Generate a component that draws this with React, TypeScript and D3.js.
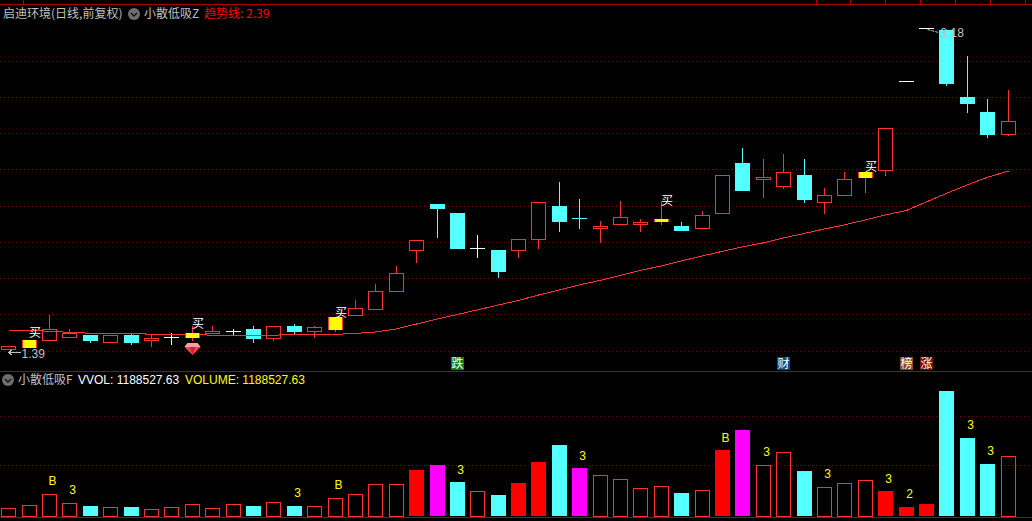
import * as d3 from "d3";

const opens = [1.41, 1.42, 1.46, 1.48, 1.49, 1.45, 1.49, 1.46, 1.48, 1.48, 1.5, 1.51, 1.52, 1.47, 1.54, 1.51, 1.52, 1.6, 1.63, 1.73, 1.96, 2.21, 2.16, 1.97, 1.96, 1.96, 2.02, 2.2, 2.135, 2.08, 2.1, 2.1, 2.12, 2.09, 2.08, 2.16, 2.44, 2.35, 2.31, 2.37, 2.22, 2.26, 2.36, 2.4, 2.89, 3.18, 3.17, 2.8, 2.72, 2.6];
const closes = [1.43, 1.46, 1.52, 1.5, 1.46, 1.49, 1.45, 1.47, 1.48, 1.5, 1.51, 1.51, 1.47, 1.54, 1.51, 1.53, 1.59, 1.64, 1.73, 1.83, 2.01, 2.19, 1.97, 1.97, 1.84, 2.02, 2.22, 2.12, 2.13, 2.09, 2.14, 2.11, 2.13, 2.07, 2.15, 2.37, 2.29, 2.36, 2.39, 2.24, 2.26, 2.35, 2.39, 2.63, 2.89, 3.18, 2.88, 2.77, 2.6, 2.67];
const highs = [1.43, 1.46, 1.6, 1.52, 1.49, 1.49, 1.5, 1.49, 1.5, 1.54, 1.54, 1.52, 1.54, 1.54, 1.55, 1.54, 1.59, 1.68, 1.77, 1.87, 2.01, 2.21, 2.16, 2.04, 1.96, 2.02, 2.22, 2.33, 2.24, 2.12, 2.23, 2.13, 2.22, 2.11, 2.17, 2.37, 2.52, 2.46, 2.49, 2.46, 2.3, 2.39, 2.39, 2.63, 2.89, 3.18, 3.17, 3.03, 2.79, 2.84];
const lows = [1.41, 1.42, 1.46, 1.48, 1.45, 1.45, 1.44, 1.43, 1.44, 1.46, 1.5, 1.49, 1.45, 1.46, 1.5, 1.48, 1.51, 1.6, 1.63, 1.73, 1.89, 2.03, 1.97, 1.92, 1.81, 1.92, 1.97, 2.06, 2.08, 2.0, 2.1, 2.06, 2.1, 2.07, 2.08, 2.16, 2.29, 2.25, 2.3, 2.22, 2.16, 2.26, 2.28, 2.37, 2.89, 3.18, 2.87, 2.72, 2.58, 2.59];
const trendLine = [1.514, 1.514, 1.509, 1.503, 1.498, 1.498, 1.498, 1.492, 1.492, 1.492, 1.487, 1.487, 1.487, 1.487, 1.492, 1.492, 1.492, 1.497, 1.505, 1.522, 1.549, 1.577, 1.602, 1.627, 1.654, 1.679, 1.709, 1.737, 1.765, 1.79, 1.817, 1.845, 1.87, 1.897, 1.925, 1.95, 1.975, 1.997, 2.024, 2.049, 2.074, 2.096, 2.124, 2.151, 2.176, 2.223, 2.27, 2.317, 2.359, 2.393];
// volume in units of 10k
const volumes = [14.5, 19.7, 42.7, 24.5, 19.1, 16.5, 15.1, 12.5, 16.5, 22.5, 14.5, 22.5, 19.1, 26.6, 19.1, 18.5, 34.6, 42.7, 62.8, 62.8, 91.5, 101.6, 65.4, 48.7, 41.2, 63.4, 107.6, 141.8, 93.6, 80.9, 72.8, 54.7, 58.8, 43.3, 50.7, 129.8, 172, 101, 127.2, 89.5, 56.7, 64.8, 70.8, 47.3, 17.1, 23.1, 250.5, 155.9, 103.6, 118.85];
// u = hollow up, d = down, r = filled red, m = magenta
const volumeKinds = "uuuududuuuuududuu" + "uuurmdudrrdmuuuud" + "urmuuduuurrrdddu";

const buyDays = [1, 9, 16, 32, 42];
const buyLabelPrices = [1.5, 1.55, 1.615, 2.23, 2.42];
const volumeLabelDays = [2, 3, 14, 16, 22, 28, 35, 37, 40, 43, 44, 47, 48];
const volumeLabels = ["B", "3", "3", "B", "3", "3", "B", "3", "3", "3", "2", "3", "3"];
const eventDays = [22, 38, 44, 45];
const eventLabels = ["跌", "财", "榜", "涨"];
const eventColors = ["#0a7d10", "#0f4a85", "#8a4a12", "#7d0a0a"];
const priceTicks = [1.4, 1.6, 1.8, 2.0, 2.2, 2.4, 2.6, 2.8, 3.0];
const volumeTicks = [1000000, 2000000];
const topTicks = [23, 816, 850, 885, 920, 955, 990, 1025];

const RED = "#ff3232";
const CYAN = "#54ffff";
const GRAY = "#c0c0c0";
const FONT = "'Liberation Sans', 'Noto Sans CJK SC', sans-serif";
const CJK = "'Noto Sans CJK SC', sans-serif";

// left edge of each 15px candle slot
const xScale = d3.scaleLinear().domain([0, 49]).range([1.805, 1001.01]);
const priceY = d3.scaleLinear().domain([1.4, 3.0]).range([351, 61.1]);
const volY = d3.scaleLinear().domain([0, 2000000]).range([515.5, 416.1]);

const leftOf = (i: number) => Math.floor(xScale(i));
const row = (v: number) => Math.floor(v) + 0.5;

function Chevron({ x, y }: { x: number; y: number }) {
  return (
    <g>
      <circle cx={x} cy={y} r={6} fill="#6e6e6e" />
      <path d={`M${x - 3},${y - 1}L${x},${y + 2}L${x + 3},${y - 1}`} fill="none" stroke="#111" strokeWidth={1.4} />
    </g>
  );
}

function Candle({ i }: { i: number }) {
  const left = leftOf(i);
  const mid = left + 7.5;
  const o = opens[i];
  const c = closes[i];
  const top = Math.round(priceY(Math.max(o, c)));
  const bottom = Math.round(priceY(Math.min(o, c)));
  const hi = Math.round(priceY(highs[i]));
  const lo = Math.round(priceY(lows[i]));
  const color = o === c ? "#ffffff" : c > o ? RED : CYAN;
  return (
    <g shapeRendering="crispEdges">
      <line x1={mid} x2={mid} y1={hi} y2={lo + 1} stroke={color} />
      {bottom - top <= 1 ? (
        <line x1={left} x2={left + 15} y1={top + 0.5} y2={top + 0.5} stroke={color} />
      ) : c > o ? (
        <rect x={left + 0.5} y={top + 0.5} width={14} height={bottom - top} fill="#000" stroke={color} />
      ) : (
        <rect x={left} y={top} width={15} height={bottom - top + 1} fill={color} />
      )}
    </g>
  );
}

function BuyBar({ i }: { i: number }) {
  const left = leftOf(i);
  const top = Math.round(priceY(closes[i]));
  const bottom = Math.round(priceY(opens[i]));
  return (
    <g shapeRendering="crispEdges">
      <rect x={left} y={top} width={15} height={bottom - top + 1} fill={RED} />
      <rect x={left + 1} y={top} width={13} height={bottom - top + 1} fill="#ffff00" />
    </g>
  );
}

function VolumeBar({ i }: { i: number }) {
  const left = leftOf(i);
  const top = Math.floor(volY(volumes[i] * 10000));
  const kind = volumeKinds[i];
  if (kind === "u") {
    return <rect x={left + 0.5} y={top + 0.5} width={14} height={515.5 - top} fill="none" stroke={RED} shapeRendering="crispEdges" />;
  }
  const fill = kind === "r" ? "#ff0000" : kind === "m" ? "#ff00ff" : CYAN;
  return <rect x={left} y={top} width={15} height={516 - top} fill={fill} shapeRendering="crispEdges" />;
}

function Gem({ x, y }: { x: number; y: number }) {
  return (
    <g>
      <path d={`M${x - 5},${y}L${x + 5},${y}L${x + 8},${y + 4}L${x},${y + 12}L${x - 8},${y + 4}Z`} fill="#f0405a" />
      <path d={`M${x - 5},${y}L${x + 5},${y}L${x + 8},${y + 4}L${x - 8},${y + 4}Z`} fill="#f7a0a0" />
      <path d={`M${x - 3},${y + 4}L${x + 3},${y + 4}L${x},${y + 11}Z`} fill="#d81e3c" />
    </g>
  );
}

export default function App() {
  const days = d3.range(opens.length);
  const trendPath = d3
    .line<number>()
    .x((_, i) => leftOf(i) + 7.5)
    .y((d) => priceY(d))(trendLine) as string;
  const lowX = leftOf(0) + 7.5;
  const lowY = row(priceY(1.39));
  const highX = leftOf(45) + 7.5;
  const highY = priceY(3.18);

  return (
    <svg width={1032} height={521} style={{ position: "fixed", left: 0, top: 0, background: "#000" }} fontFamily={FONT} fontSize={12}>
      <rect width={1032} height={521} fill="#000" />

      {/* frame */}
      <g stroke="#b00000" shapeRendering="crispEdges">
        <line x1={0} x2={1032} y1={4.5} y2={4.5} />
        <line x1={0} x2={1032} y1={371.5} y2={371.5} />
        <line x1={0} x2={1032} y1={517.5} y2={517.5} />
        {topTicks.map((t) => (
          <line key={t} x1={t + 0.5} x2={t + 0.5} y1={0} y2={4} />
        ))}
      </g>

      {/* grid */}
      <g stroke="#800000" strokeDasharray="1 3" shapeRendering="crispEdges">
        {priceTicks.map((t) => (
          <line key={t} x1={0} x2={1032} y1={row(priceY(t))} y2={row(priceY(t))} />
        ))}
        {volumeTicks.map((t) => (
          <line key={t} x1={0} x2={1032} y1={row(volY(t))} y2={row(volY(t))} />
        ))}
      </g>

      {/* candles */}
      {days.map((i) => (
        <Candle key={i} i={i} />
      ))}
      <path d={trendPath} fill="none" stroke={RED} shapeRendering="crispEdges" />
      {buyDays.map((i) => (
        <BuyBar key={i} i={i} />
      ))}
      {buyDays.map((i, n) => (
        <text key={i} x={leftOf(i) + 13} y={priceY(buyLabelPrices[n]) + 4.5} fill="#fff" fontFamily={CJK} textAnchor="middle">
          买
        </text>
      ))}
      <Gem x={leftOf(9) + 7.5} y={343} />

      {/* low and high marks */}
      <path d={`M${lowX},${lowY}H${lowX + 12}M${lowX + 4},${lowY - 3}L${lowX},${lowY}L${lowX + 4},${lowY + 3}`} fill="none" stroke={GRAY} shapeRendering="crispEdges" />
      <text x={lowX + 13} y={lowY + 5} fill={GRAY}>
        1.39
      </text>
      <path d={`M${highX + 1},${highY + 1}L${highX + 12},${highY + 4}`} fill="none" stroke={GRAY} strokeDasharray="3 1" />
      <text x={highX + 14} y={highY + 9} fill={GRAY}>
        3.18
      </text>

      {/* event tags */}
      {eventDays.map((i, n) => (
        <g key={i}>
          <rect x={leftOf(i) + 1} y={357} width={13} height={13} fill={eventColors[n]} />
          <text x={leftOf(i) + 7.5} y={368} fontFamily={CJK} fontSize={12} fill="#fff" textAnchor="middle">
            {eventLabels[n]}
          </text>
        </g>
      ))}

      {/* volume */}
      {days.map((i) => (
        <VolumeBar key={i} i={i} />
      ))}
      {volumeLabelDays.map((i, n) => (
        <text key={i} x={leftOf(i) + 7.5 + 3} y={volY(volumes[i] * 10000) - 9} fill="#ffff00" textAnchor="middle">
          {volumeLabels[n]}
        </text>
      ))}

      {/* titles */}
      <text x={3} y={18} fill={GRAY} fontFamily={CJK}>
        启迪环境(日线,前复权)
      </text>
      <Chevron x={134} y={14} />
      <text x={144} y={18} fill={GRAY} fontFamily={CJK}>
        小散低吸Z
      </text>
      <text x={204} y={18} fill="#ff0000" fontFamily={CJK}>
        趋势线: 2.39
      </text>
      <Chevron x={8} y={380} />
      <text x={18} y={384} fill={GRAY} fontFamily={CJK}>
        小散低吸F
      </text>
      <text x={78} y={384} fill="#ffffff">
        VVOL: 1188527.63
      </text>
      <text x={185} y={384} fill="#ffff00">
        VOLUME: 1188527.63
      </text>
    </svg>
  );
}
